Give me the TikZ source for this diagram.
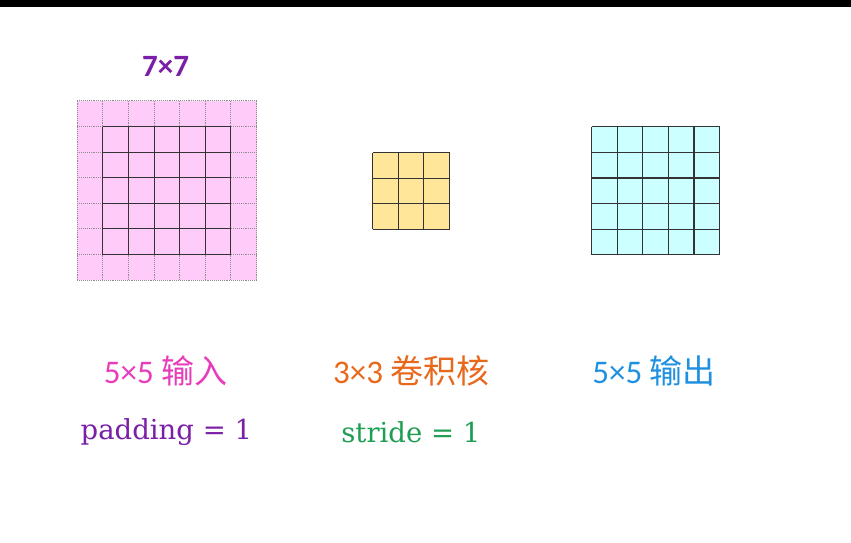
\documentclass[tikz,border=0pt]{standalone}
\usepackage{fontspec}
\newfontfamily\carl{Carlito}
\newfontfamily\serifparam{DejaVu Serif}
\newfontfamily\cjk{Noto Sans CJK SC}
\usepackage{xcolor}

\definecolor{padpink}{HTML}{FFCCFA}
\definecolor{kernyellow}{HTML}{FFE699}
\definecolor{outcyan}{HTML}{CCFFFF}
\definecolor{sizepurple}{HTML}{7A1FA6}
\definecolor{inpink}{HTML}{E83DBB}
\definecolor{kernorange}{HTML}{E8681C}
\definecolor{outblue}{HTML}{1E90E0}
\definecolor{stridegreen}{HTML}{1E9E52}

\tikzset{
  cellline/.style={draw=black!80, line width=1.1pt},
  padline/.style={draw=black!45, line width=0.9pt, densely dotted},
  caption/.style={font=\carl\fontsize{33}{36}\selectfont, anchor=center},
  param/.style={font=\serifparam\fontsize{27.5}{30}\selectfont, anchor=center},
}

\begin{document}
\begin{tikzpicture}[x=25.6pt, y=25.6pt]
  % Canvas of the reference size
  \useasboundingbox (0,0) rectangle (33.242,21.172);
  \fill[white] (0,0) rectangle (33.242,21.172);
  \fill[black] (0,20.88) rectangle (33.242,21.172);

  % Padded input: 7x7 dotted, 5x5 solid inside
  \begin{scope}[shift={(3.02,10.23)}]
    \fill[padpink] (0,0) rectangle (7,7);
    \foreach \i in {0,...,7} {
      \draw[padline] (\i,0) -- (\i,7);
      \draw[padline] (0,\i) -- (7,\i);
    }
    \foreach \i in {1,...,6} {
      \draw[cellline] (\i,1) -- (\i,6);
      \draw[cellline] (1,\i) -- (6,\i);
    }
  \end{scope}

  % Kernel 3x3
  \begin{scope}[shift={(14.56,12.21)}]
    \fill[kernyellow] (0,0) rectangle (3,3);
    \foreach \i in {0,...,3} {
      \draw[cellline] (\i,0) -- (\i,3);
      \draw[cellline] (0,\i) -- (3,\i);
    }
  \end{scope}

  % Output 5x5
  \begin{scope}[shift={(23.11,11.22)}]
    \fill[outcyan] (0,0) rectangle (5,5);
    \foreach \i in {0,...,5} {
      \draw[cellline] (\i,0) -- (\i,5);
      \draw[cellline] (0,\i) -- (5,\i);
    }
  \end{scope}

  % Labels
  \node[font=\carl\bfseries\fontsize{31}{34}\selectfont, text=sizepurple] (padsize) at (6.47,18.59) {7×7};
  \node[caption, text=inpink] (inlabel) at (6.47,6.68) {5×5 {\cjk 输入}};
  \node[caption, text=kernorange] (kernlabel) at (16.07,6.68) {3×3 {\cjk 卷积核}};
  \node[caption, text=outblue] (outlabel) at (25.55,6.68) {5×5 {\cjk 输出}};
  \node[param, text=sizepurple] (padding) at (6.5,4.3) {padding = 1};
  \node[param, text=stridegreen] (stride) at (16.05,4.3) {stride = 1};
\end{tikzpicture}
\end{document}
